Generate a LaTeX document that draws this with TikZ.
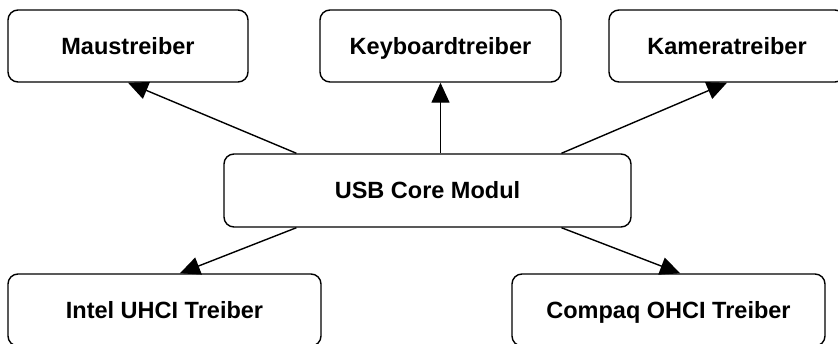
\documentclass[tikz,border=0pt]{standalone}
\usepackage{fontspec}
\setmainfont{Liberation Sans}
\usetikzlibrary{arrows.meta,calc}
\begin{document}
\begin{tikzpicture}[x=1pt,y=-1pt,
  box/.style={draw,line width=1.4pt,rounded corners=10pt,inner sep=0pt,
    text height=16.8pt,text depth=0pt,
    font=\fontsize{23.5}{28}\selectfont\bfseries},
  link/.style={line width=1.4pt,-{Triangle[length=20pt,width=18pt]}}]
\useasboundingbox (0,0) rectangle (838,343);
% driver modules on top
\node[box,minimum width=240pt,minimum height=72pt] (maus) at (128,46) {Maustreiber};
\node[box,minimum width=241pt,minimum height=72pt] (key) at (440.5,46) {Keyboardtreiber};
\node[box,minimum width=236pt,minimum height=72pt] (kam) at (727,46) {Kameratreiber};
% core
\node[box,minimum width=407pt,minimum height=73pt] (usb) at (427.5,190.5) {USB Core Modul};
% host controller drivers
\node[box,minimum width=313pt,minimum height=72pt] (intel) at (164.5,310) {Intel UHCI Treiber};
\node[box,minimum width=313pt,minimum height=72pt] (compaq) at (668.5,310) {Compaq OHCI Treiber};
% connections
\draw[link] ($(usb.north west)!0.179!(usb.north east)$) -- (maus.south);
\draw[link] (usb.north -| key.south) -- (key.south);
\draw[link] ($(usb.north west)!0.828!(usb.north east)$) -- (kam.south);
\draw[link] ($(usb.south west)!0.179!(usb.south east)$) -- ($(intel.north west)!0.549!(intel.north east)$);
\draw[link] ($(usb.south west)!0.828!(usb.south east)$) -- ($(compaq.north west)!0.537!(compaq.north east)$);
\end{tikzpicture}
\end{document}
